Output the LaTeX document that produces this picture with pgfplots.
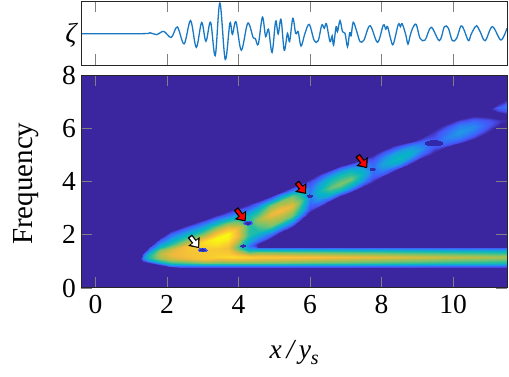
\documentclass[border=0pt]{standalone}
\usepackage{fontspec}
\setmainfont{Liberation Serif}
\usepackage{pgfplots}
\pgfplotsset{compat=1.18}
\usetikzlibrary{arrows.meta}
\newcommand\lab{\fontsize{27.5}{30}\selectfont}
\definecolor{bgblue}{RGB}{60,38,160}
\definecolor{nullblue}{RGB}{50,40,170}
\definecolor{haloblue}{RGB}{60,90,235}
\definecolor{sigblue}{RGB}{25,120,195}
\pgfplotsset{
  colormap={parulaish}{
    rgb255=(60,38,160) rgb255=(72,82,244) rgb255=(50,115,250) rgb255=(30,155,225)
    rgb255=(5,180,200) rgb255=(40,190,160) rgb255=(120,195,110) rgb255=(185,190,70)
    rgb255=(243,185,60) rgb255=(250,210,45) rgb255=(249,251,14)},
  every axis/.append style={
    scale only axis, axis on top, tick align=inside,
    tick style={gray, line width=.8pt}, major tick length=11pt,
    axis line style={line width=1pt, black!85},
    tick label style={font=\lab}, label style={font=\lab},
    /pgf/number format/assume math mode=true,
  },
}
\begin{document}
\begin{tikzpicture}
\useasboundingbox (-81.5pt,-89pt) rectangle (427.5pt,288pt);
% spectrogram
\begin{axis}[
  name=spec, at={(0pt,0pt)}, anchor=south west,
  width=425.5pt, height=212.5pt,
  xmin=-0.39, xmax=11.51, ymin=0, ymax=8,
  xtick={0,2,...,10}, ytick={0,2,...,8},
  axis background/.style={fill=bgblue},
  point meta min=0, point meta max=1,
  xticklabel style={yshift=-4pt}, yticklabel style={xshift=-2pt},
  xlabel={\textit{x\,/\,y}\raisebox{-.22em}{\fontsize{20}{22}\selectfont\textit{s}}}, ylabel={\fontsize{29}{31}\selectfont Frequency},
  xlabel style={yshift=-19pt}, ylabel style={yshift=17pt, xshift=-2pt},
]
% merged part, left of the wedge
\addplot[surf, shader=interp, mesh/rows=12, mesh/cols=14, point meta=explicit] coordinates {
(1.24,1.11)[0] (1.24,1.11)[0] (1.24,1.11)[0] (1.24,1.11)[0] (1.24,1.11)[0] (1.24,1.11)[0] (1.24,1.11)[0] (1.24,1.11)[0] (1.24,1.11)[0] (1.24,1.11)[0] (1.24,1.11)[0] (1.24,1.11)[0] (1.24,1.11)[0] (1.24,1.11)[0]

(1.32,1.0)[0] (1.32,1.03)[.06] (1.32,1.07)[.14] (1.32,1.11)[.19] (1.32,1.14)[.21] (1.32,1.16)[.22] (1.32,1.18)[.22] (1.32,1.18)[.22] (1.32,1.2)[.22] (1.32,1.22)[.2] (1.32,1.25)[.16] (1.32,1.28)[.1] (1.32,1.31)[.04] (1.32,1.33)[0]

(1.5,.94)[0] (1.5,.98)[.12] (1.5,1.03)[.28] (1.5,1.1)[.42] (1.5,1.14)[.46] (1.5,1.18)[.47] (1.5,1.22)[.47] (1.5,1.22)[.47] (1.5,1.25)[.46] (1.5,1.28)[.44] (1.5,1.32)[.4] (1.5,1.4)[.26] (1.5,1.5)[.1] (1.5,1.55)[0]

(1.8,.85)[0] (1.8,.9)[.16] (1.8,.98)[.42] (1.8,1.08)[.62] (1.8,1.14)[.67] (1.8,1.2)[.69] (1.8,1.27)[.7] (1.8,1.27)[.7] (1.8,1.31)[.69] (1.8,1.36)[.66] (1.8,1.42)[.62] (1.8,1.6)[.38] (1.8,1.8)[.13] (1.8,1.88)[0]

(2.1,.78)[0] (2.1,.84)[.18] (2.1,.95)[.5] (2.1,1.05)[.68] (2.1,1.12)[.74] (2.1,1.2)[.78] (2.1,1.28)[.79] (2.1,1.28)[.79] (2.1,1.33)[.78] (2.1,1.38)[.76] (2.1,1.45)[.72] (2.1,1.7)[.45] (2.1,2.02)[.15] (2.1,2.13)[0]

(2.6,.77)[0] (2.6,.83)[.19] (2.6,.95)[.55] (2.6,1.1)[.78] (2.6,1.2)[.83] (2.6,1.3)[.84] (2.6,1.35)[.84] (2.6,1.35)[.84] (2.6,1.42)[.85] (2.6,1.5)[.85] (2.6,1.6)[.84] (2.6,1.9)[.55] (2.6,2.26)[.17] (2.6,2.38)[0]

(3.0,.75)[0] (3.0,.81)[.2] (3.0,.95)[.6] (3.0,1.1)[.85] (3.0,1.22)[.86] (3.0,1.35)[.86] (3.0,1.42)[.86] (3.0,1.42)[.86] (3.0,1.5)[.88] (3.0,1.62)[.91] (3.0,1.75)[.93] (3.0,2.05)[.6] (3.0,2.43)[.17] (3.0,2.55)[0]

(3.4,.75)[0] (3.4,.81)[.2] (3.4,.95)[.6] (3.4,1.15)[.9] (3.4,1.28)[.88] (3.4,1.4)[.86] (3.4,1.45)[.86] (3.4,1.45)[.86] (3.4,1.6)[.92] (3.4,1.75)[.97] (3.4,1.9)[1] (3.4,2.25)[.65] (3.4,2.62)[.17] (3.4,2.75)[0]

(3.7,.75)[0] (3.7,.81)[.2] (3.7,.95)[.6] (3.7,1.15)[.92] (3.7,1.28)[.88] (3.7,1.42)[.84] (3.7,1.5)[.82] (3.7,1.5)[.82] (3.7,1.65)[.88] (3.7,1.85)[.97] (3.7,2.05)[1] (3.7,2.4)[.65] (3.7,2.75)[.17] (3.7,2.89)[0]

(4.0,.75)[0] (4.0,.81)[.2] (4.0,.95)[.6] (4.0,1.15)[.92] (4.0,1.3)[.75] (4.0,1.45)[.6] (4.0,1.55)[.55] (4.0,1.55)[.55] (4.0,1.7)[.65] (4.0,1.95)[.8] (4.0,2.25)[.78] (4.0,2.6)[.5] (4.0,2.9)[.15] (4.0,3.0)[0]

(4.3,.75)[0] (4.3,.81)[.2] (4.3,.95)[.6] (4.3,1.15)[.9] (4.3,1.33)[.62] (4.3,1.48)[.34] (4.3,1.6)[.2] (4.3,1.6)[.2] (4.3,1.75)[.34] (4.3,2.0)[.5] (4.3,2.4)[.5] (4.3,2.75)[.42] (4.3,3.03)[.15] (4.3,3.15)[0]

(4.55,.75)[0] (4.55,.81)[.2] (4.55,.95)[.6] (4.55,1.15)[.88] (4.55,1.35)[.6] (4.55,1.49)[.2] (4.55,1.55)[0] (4.55,1.65)[0] (4.55,1.785)[.17] (4.55,2.10)[.46] (4.55,2.55)[.66] (4.55,2.91)[.46] (4.55,3.16)[.17] (4.55,3.27)[0]
};
% horizontal band
\addplot[surf, shader=interp, mesh/rows=5, mesh/cols=7, point meta=explicit] coordinates {
(4.55,.75)[0] (4.55,.81)[.2] (4.55,.95)[.6] (4.55,1.15)[.88] (4.55,1.35)[.6] (4.55,1.49)[.2] (4.55,1.55)[0]

(6,.75)[0] (6,.81)[.19] (6,.95)[.57] (6,1.15)[.84] (6,1.35)[.57] (6,1.49)[.19] (6,1.55)[0]

(8,.75)[0] (8,.81)[.18] (8,.95)[.53] (8,1.15)[.78] (8,1.35)[.53] (8,1.49)[.18] (8,1.55)[0]

(10,.75)[0] (10,.81)[.16] (10,.95)[.49] (10,1.15)[.72] (10,1.35)[.49] (10,1.49)[.16] (10,1.55)[0]

(11.51,.75)[0] (11.51,.81)[.15] (11.51,.95)[.46] (11.51,1.15)[.68] (11.51,1.35)[.46] (11.51,1.49)[.15] (11.51,1.55)[0]
};
% rising band
\addplot[surf, shader=interp, mesh/rows=24, mesh/cols=7, point meta=explicit] coordinates {
(4.55,1.65)[0] (4.55,1.785)[.17] (4.55,2.10)[.46] (4.55,2.55)[.66] (4.55,2.91)[.46] (4.55,3.16)[.17] (4.55,3.27)[0]

(4.9,1.90)[0] (4.9,2.03)[.2] (4.9,2.34)[.6] (4.9,2.78)[.8] (4.9,3.115)[.6] (4.9,3.35)[.2] (4.9,3.45)[0]

(5.2,2.10)[0] (5.2,2.23)[.2] (5.2,2.53)[.62] (5.2,2.95)[.82] (5.2,3.285)[.62] (5.2,3.52)[.2] (5.2,3.62)[0]

(5.5,2.30)[0] (5.5,2.42)[.19] (5.5,2.70)[.59] (5.5,3.10)[.78] (5.5,3.45)[.59] (5.5,3.695)[.19] (5.5,3.80)[0]

(5.75,2.55)[0] (5.75,2.66)[.15] (5.75,2.915)[.42] (5.75,3.28)[.58] (5.75,3.615)[.42] (5.75,3.85)[.15] (5.75,3.95)[0]

(6.0,2.85)[0] (6.0,2.94)[.06] (6.0,3.155)[.17] (6.0,3.46)[.24] (6.0,3.79)[.17] (6.0,4.02)[.06] (6.0,4.12)[0]

(6.25,3.05)[0] (6.25,3.14)[.11] (6.25,3.335)[.30] (6.25,3.62)[.42] (6.25,3.95)[.30] (6.25,4.18)[.11] (6.25,4.28)[0]

(6.55,3.28)[0] (6.55,3.355)[.15] (6.55,3.53)[.42] (6.55,3.78)[.58] (6.55,4.115)[.42] (6.55,4.35)[.15] (6.55,4.45)[0]

(6.85,3.45)[0] (6.85,3.52)[.16] (6.85,3.69)[.45] (6.85,3.93)[.62] (6.85,4.265)[.45] (6.85,4.50)[.16] (6.85,4.60)[0]

(7.15,3.62)[0] (7.15,3.69)[.16] (7.15,3.86)[.43] (7.15,4.10)[.6] (7.15,4.41)[.43] (7.15,4.63)[.16] (7.15,4.72)[0]

(7.45,3.80)[0] (7.45,3.87)[.11] (7.45,4.04)[.30] (7.45,4.28)[.42] (7.45,4.565)[.30] (7.45,4.765)[.11] (7.45,4.85)[0]

(7.76,4.0)[0] (7.76,4.07)[.05] (7.76,4.235)[.14] (7.76,4.47)[.2] (7.76,4.745)[.14] (7.76,4.94)[.05] (7.76,5.02)[0]

(8.05,4.20)[0] (8.05,4.27)[.09] (8.05,4.425)[.24] (8.05,4.65)[.34] (8.05,4.925)[.24] (8.05,5.12)[.09] (8.05,5.20)[0]

(8.3,4.37)[0] (8.3,4.43)[.11] (8.3,4.575)[.30] (8.3,4.78)[.42] (8.3,5.055)[.30] (8.3,5.25)[.11] (8.3,5.33)[0]

(8.52,4.50)[0] (8.52,4.56)[.11] (8.52,4.70)[.32] (8.52,4.90)[.44] (8.52,5.16)[.32] (8.52,5.34)[.11] (8.52,5.42)[0]

(8.8,4.68)[0] (8.8,4.74)[.10] (8.8,4.88)[.29] (8.8,5.08)[.4] (8.8,5.29)[.29] (8.8,5.44)[.10] (8.8,5.50)[0]

(9.1,4.90)[0] (9.1,4.95)[.07] (9.1,5.075)[.20] (9.1,5.25)[.28] (9.1,5.45)[.20] (9.1,5.59)[.07] (9.1,5.65)[0]

(9.47,5.1)[0] (9.47,5.15)[.03] (9.47,5.275)[.09] (9.47,5.45)[.12] (9.47,5.70)[.09] (9.47,5.875)[.03] (9.47,5.95)[0]

(9.8,5.30)[0] (9.8,5.35)[.06] (9.8,5.475)[.17] (9.8,5.65)[.24] (9.8,5.91)[.17] (9.8,6.09)[.06] (9.8,6.17)[0]

(10.2,5.44)[0] (10.2,5.51)[.08] (10.2,5.66)[.22] (10.2,5.88)[.3] (10.2,6.13)[.22] (10.2,6.305)[.08] (10.2,6.38)[0]

(10.6,5.62)[0] (10.6,5.68)[.07] (10.6,5.835)[.19] (10.6,6.05)[.26] (10.6,6.26)[.19] (10.6,6.41)[.07] (10.6,6.47)[0]

(11.0,5.88)[0] (11.0,5.93)[.03] (11.0,6.05)[.09] (11.0,6.22)[.12] (11.0,6.32)[.09] (11.0,6.39)[.03] (11.0,6.42)[0]

(11.35,6.20)[0] (11.35,6.215)[.01] (11.35,6.25)[.02] (11.35,6.30)[.03] (11.35,6.315)[.02] (11.35,6.325)[.01] (11.35,6.33)[0]

(11.51,6.28)[0] (11.51,6.285)[.003] (11.51,6.29)[.006] (11.51,6.30)[.01] (11.51,6.31)[.006] (11.51,6.315)[.003] (11.51,6.32)[0]
};
% piece at the upper right
\addplot[surf, shader=interp, mesh/rows=3, mesh/cols=5, point meta=explicit] coordinates {
(11.03,6.75)[0] (11.03,6.75)[0] (11.03,6.75)[0] (11.03,6.75)[0] (11.03,6.75)[0]

(11.25,6.62)[0] (11.25,6.68)[.06] (11.25,6.8)[.15] (11.25,6.87)[.06] (11.25,6.93)[0]

(11.51,6.55)[0] (11.51,6.63)[.08] (11.51,6.85)[.22] (11.51,7.0)[.08] (11.51,7.1)[0]
};
% dark spots
\addplot[haloblue, only marks, mark=*, mark size=1.9pt, mark options={xscale=2.4, line width=0pt}]
  coordinates {(3.0,1.43) (4.27,2.44)};
\addplot[nullblue, only marks, mark=*, mark size=1.1pt, mark options={xscale=2.6, line width=0pt}]
  coordinates {(3.0,1.43) (4.13,1.58) (4.27,2.44) (6.0,3.46) (7.76,4.47)};
\addplot[nullblue, only marks, mark=*, mark size=2.6pt, mark options={xscale=3.4, line width=0pt}]
  coordinates {(9.47,5.45)};
% arrows
\draw[line width=5.4pt, black, -{Triangle[length=8.5pt,width=14pt]}] (axis cs:2.64,1.95) -- (axis cs:2.90,1.50);
\draw[line width=2.8pt, white, -{Triangle[length=6pt,width=9pt]}] (axis cs:2.665,1.91) -- (axis cs:2.875,1.55);
\draw[line width=5.4pt, black, -{Triangle[length=8.5pt,width=14pt]}] (axis cs:3.93,2.98) -- (axis cs:4.20,2.50);
\draw[line width=2.8pt, red, -{Triangle[length=6pt,width=9pt]}] (axis cs:3.955,2.94) -- (axis cs:4.175,2.55);
\draw[line width=5.4pt, black, -{Triangle[length=8.5pt,width=14pt]}] (axis cs:5.63,3.98) -- (axis cs:5.89,3.54);
\draw[line width=2.8pt, red, -{Triangle[length=6pt,width=9pt]}] (axis cs:5.655,3.94) -- (axis cs:5.865,3.59);
\draw[line width=5.4pt, black, -{Triangle[length=8.5pt,width=14pt]}] (axis cs:7.33,4.99) -- (axis cs:7.60,4.51);
\draw[line width=2.8pt, red, -{Triangle[length=6pt,width=9pt]}] (axis cs:7.355,4.95) -- (axis cs:7.575,4.56);
\end{axis}
% signal
\begin{axis}[
  at={(0pt,222.5pt)}, anchor=south west,
  width=425.5pt, height=64pt,
  xmin=-0.39, xmax=11.51, ymin=-1, ymax=1.01,
  xtick={0,2,...,10}, xticklabels={}, ytick=\empty,
  ylabel={\textit{ζ}}, ylabel style={rotate=-90, yshift=-2pt},
]
\addplot[sigblue, line width=1.3pt, smooth, tension=.55] coordinates {
(-0.39,0) (1.33,0) (1.52,.03) (1.71,-.03) (1.91,.07) (2.12,-.12) (2.29,.21) (2.48,-.32) (2.66,.41)
(2.82,-.43) (2.97,.35) (3.09,-.24) (3.22,.36) (3.35,-.69) (3.48,.96) (3.63,-.81) (3.76,.33) (3.83,-.02)
(3.93,.37) (4.08,-.52) (4.26,.33) (4.41,-.12) (4.47,-.15) (4.555,-.33) (4.67,.52) (4.76,-.09) (4.84,.14)
(4.94,-.59) (5.04,.39) (5.11,-.01) (5.19,.45) (5.28,-.52) (5.37,.01) (5.43,-.25) (5.52,.48) (5.60,.01)
(5.67,.06) (5.75,-.39) (5.86,.01) (5.98,.29) (6.12,-.22) (6.23,-.22) (6.33,.27) (6.40,.17) (6.46,.31)
(6.56,-.25) (6.62,-.07) (6.66,-.36) (6.73,.22) (6.77,.06) (6.84,.41) (6.91,.06) (6.98,.01) (7.05,-.41)
(7.11,.03) (7.15,-.07) (7.21,.36) (7.31,.06) (7.40,-.25) (7.51,-.2) (7.68,.25) (7.89,-.27) (8.05,.27)
(8.12,.14) (8.17,.22) (8.26,-.18) (8.33,-.33) (8.47,.29) (8.53,.22) (8.58,.31) (8.68,-.04) (8.74,-.33)
(8.80,-.07) (8.87,.17) (8.97,.29) (9.08,-.15) (9.22,-.2) (9.39,.2) (9.62,-.22) (9.76,.22) (9.87,.17)
(9.98,-.22) (10.10,-.15) (10.22,.24) (10.30,.14) (10.43,-.22) (10.50,-.04) (10.57,.12) (10.66,.25)
(10.76,.06) (10.90,-.22) (11.10,.22) (11.34,-.2) (11.51,.17)
};
\end{axis}
\end{tikzpicture}
\end{document}
